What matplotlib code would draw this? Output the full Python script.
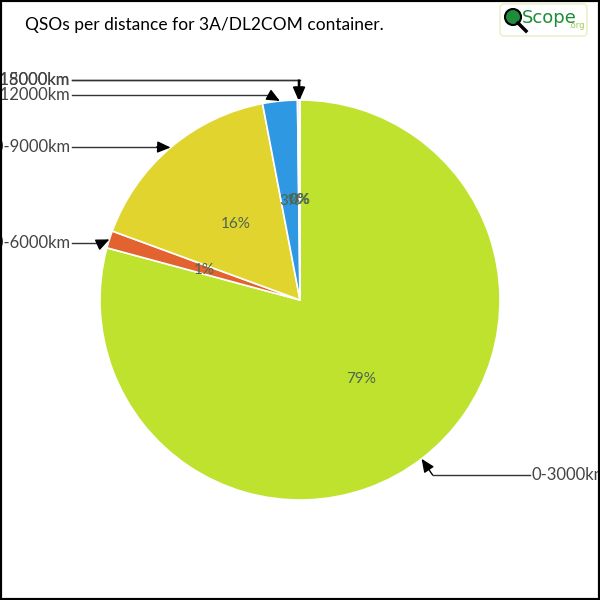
import numpy as np
import matplotlib.pyplot as plt
from matplotlib.patches import Rectangle, FancyBboxPatch, Circle

# QSO counts per distance band (read as shares of the pie)
bands = ["0-3000km", "3000-6000km", "6000-9000km", "9000-12000km",
         "12000-15000km", "15000-18000km"]
qsos = [792, 14, 164, 28, 1.5, 0.5]
colors = ["#bfe22f", "#e2632f", "#e2d42f", "#2f98e2", "#982fe2", "#e22f98"]

# label layout in pixels (y from top), elbow offset from arrow tip
lab_y = [475, 243, 147, 95, 80, 80]
elbow_dx = [11, -8, -14, -11, 0, 0]

fig = plt.figure(figsize=(6, 6), dpi=100)
ax = fig.add_axes([0, 0, 1, 1])

cx, cy, r = 300, 300, 200
wedges, texts, pcts = ax.pie(qsos, colors=colors, startangle=90, counterclock=False,
                             radius=r, center=(cx, cy), autopct="%1.0f%%",
                             pctdistance=0.5, frame=True,
                             wedgeprops=dict(edgecolor="white", linewidth=1.2),
                             textprops=dict(fontsize=11, color="#4d6650", family="Lato"))
ax.set_xlim(0, 600)
ax.set_ylim(0, 600)
ax.set_aspect("equal")
ax.axis("off")

for i, w in enumerate(wedges):
    th = np.deg2rad((w.theta1 + w.theta2) / 2)
    tx, ty = cx + r * np.cos(th), cy + r * np.sin(th)
    ly = 600 - lab_y[i]
    ex = tx + elbow_dx[i]
    if tx > cx + 5:
        x0 = 532
        ax.text(x0, ly, bands[i], ha="left", va="center", fontsize=12,
                family="Lato", color="#444444")
        ax.plot([ex, x0 - 2], [ly, ly], color="#333333", lw=1)
    else:
        x0 = 70
        ax.text(x0, ly, bands[i], ha="right", va="center", fontsize=12,
                family="Lato", color="#444444")
        ax.plot([x0 + 2, ex], [ly, ly], color="#333333", lw=1)
    ax.annotate("", xy=(tx, ty), xytext=(ex, ly),
                arrowprops=dict(arrowstyle="-|>,head_length=0.8,head_width=0.35",
                                color="black", lw=1, shrinkA=0, shrinkB=0))

ax.text(25, 575, "QSOs per distance for 3A/DL2COM container.", ha="left", va="center",
        fontsize=12.5, family="Lato", color="black")

# logo
ax.add_patch(FancyBboxPatch((500, 564), 87, 32, boxstyle="round,pad=0,rounding_size=4",
                            facecolor="white", edgecolor="#e8efc0", lw=1))
ax.add_patch(Circle((513, 583), 8, facecolor="#1e8c3a", edgecolor="black", lw=1.5))
ax.plot([518, 526], [577, 569], color="black", lw=2.5)
ax.text(522, 582, "Scope", ha="left", va="center", fontsize=13, family="Liberation Sans Narrow",
        color="#1e8c3a")
ax.text(568, 575, ".org", ha="left", va="center", fontsize=6, color="#9ccc55")

fig.patches.append(Rectangle((0, 0), 1, 1, transform=fig.transFigure, fill=False,
                             edgecolor="black", lw=3))
fig.savefig("out.png", dpi=100)
